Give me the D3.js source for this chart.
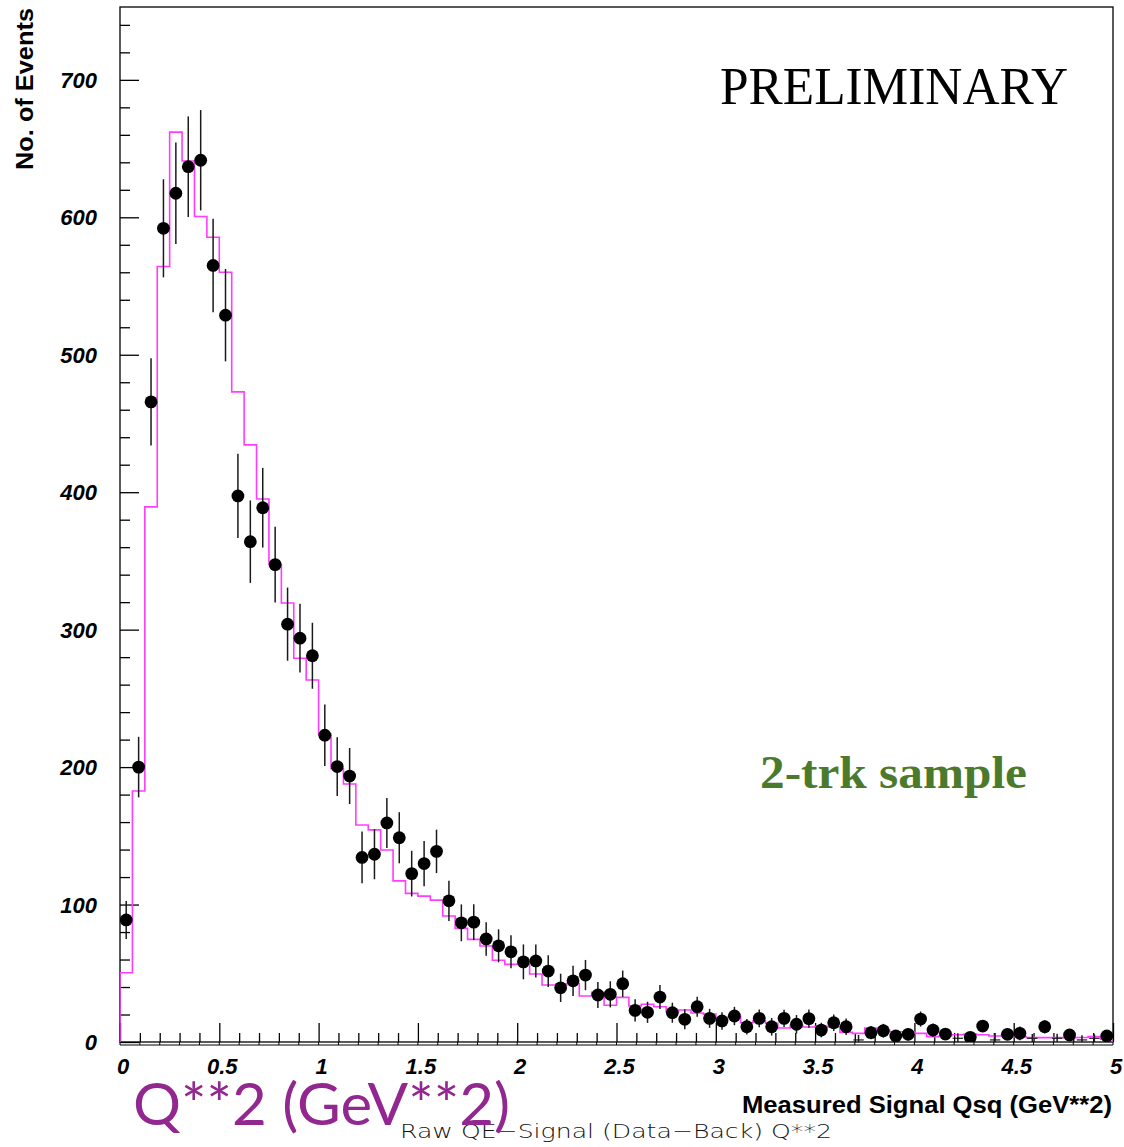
<!DOCTYPE html>
<html>
<head>
<meta charset="utf-8">
<script src="https://cdn.jsdelivr.net/npm/d3@7"></script>
<style>
  html, body { margin: 0; padding: 0; background: #fff; }
  svg { display: block; }
</style>
</head>
<body>
<svg id="chart" width="1124" height="1147"></svg>
<script>
// Binning of the Q^2 histogram: 80 bins over 0..5 GeV^2
const binLow = 0;
const binHigh = 5;
const nBins = 80;

// Measured signal (data - background), events per bin
const dataCounts = [
  88.8, 200, 465.7, 592, 617.5, 636.8, 641.5, 565, 528.8, 397.3,
  364, 388.7, 347.3, 304, 293.8, 281, 223.2, 200.4, 193.5, 134.3,
  136.6, 159.4, 148.6, 122.5, 129.8, 138.7, 102.7, 86.7, 87.2, 75,
  70, 65.6, 58.3, 59, 51.6, 39.4, 44.5, 48.7, 34.2, 34.7,
  42.4, 23, 21.6, 32.7, 21.3, 16.5, 25.7, 17.2, 15.3, 18.9,
  11.1, 17.2, 11.1, 17.2, 12.9, 17, 8.7, 14, 11.1, 1.5,
  6.8, 8.2, 4.4, 5.6, 16.7, 8.7, 5.8, 2.7, 3.4, 11.6,
  1.5, 5.6, 6.3, 2.7, 11.1, 2.7, 5.1, 1.5, 2.7, 4.4
];

// Statistical errors on the measured signal
const dataErrors = [
  13.8, 22, 31.7, 35.7, 37, 36.6, 36.5, 34, 33.6, 30.6,
  30, 29, 27.6, 26.6, 25, 24, 22.4, 21.4, 20.4, 18.8,
  18.2, 18.2, 18.6, 16.6, 16.4, 15.8, 14.6, 13.4, 13, 12.2,
  12, 12, 12.7, 12, 11.5, 10.3, 11, 11, 9.5, 9.5,
  9.6, 8.1, 7.7, 8.7, 7.3, 7.3, 7.3, 6.9, 6.3, 6.7,
  5.7, 6.5, 6.4, 6.3, 6.7, 6.6, 5.3, 6, 6, 3.6,
  4.8, 5, 4.2, 4.5, 5.5, 4.8, 4.2, 3.6, 4, 4.2,
  5, 4.2, 5, 3.1, 4.8, 3.3, 4.2, 3.5, 3, 4.4
];

// Monte Carlo expectation, events per bin
const mcCounts = [
  50.4, 182.6, 389.3, 564.2, 662, 641, 600.6, 585.5, 560, 473,
  434.4, 395, 347.6, 319.4, 279.2, 263.4, 224, 199, 187.7, 157.9,
  154.3, 139.7, 117.2, 108.1, 106.1, 103.2, 91.7, 82.7, 74.7, 69.8,
  59.5, 56.5, 56.5, 49.5, 41.5, 41.5, 42.5, 33.5, 36.2, 26.7,
  32.5, 26.2, 27.5, 25.7, 22, 23.3, 21.1, 20.3, 17.8, 18.6,
  14, 15.4, 13.6, 10.2, 12.1, 10.9, 11.5, 11, 7, 6.3,
  10.2, 8.7, 7.5, 7.5, 6.3, 3.9, 4.4, 5.3, 5.8, 5.3,
  4.4, 4.9, 3.9, 3.2, 3.2, 3.3, 2.9, 3.3, 3.9, 2
];

// Axis ranges and tick labels
const yMax = 753;
const yMajorTicks = [0, 100, 200, 300, 400, 500, 600, 700];
const xMajorTicks = [0, 0.5, 1, 1.5, 2, 2.5, 3, 3.5, 4, 4.5, 5];
const xTickLabels = ["0", "0.5", "1", "1.5", "2", "2.5", "3", "3.5", "4", "4.5", "5"];

// Texts
const yTitle = "No. of Events";
const xTitle = "Measured Signal Qsq (GeV**2)";
const statusLabel = "PRELIMINARY";
const sampleLabel = "2-trk sample";
const bigAxisLabel = "Q**2 (GeV**2)";
const histTitle = "Raw QE\u2212Signal (Data\u2212Back) Q**2";

// Frame geometry
const frame = { left: 120, right: 1113, top: 7, bottom: 1042 };

const svg = d3.select("#chart");
const x = d3.scaleLinear().domain([binLow, binHigh]).range([frame.left, frame.right]);
const y = d3.scaleLinear().domain([0, yMax]).range([frame.bottom, frame.top]);
const binWidth = (binHigh - binLow) / nBins;

const bins = d3.range(nBins).map(i => ({
  lo: binLow + i * binWidth,
  hi: binLow + (i + 1) * binWidth,
  mid: binLow + (i + 0.5) * binWidth,
  v: dataCounts[i],
  e: dataErrors[i],
  mc: mcCounts[i]
}));

svg.append("defs").append("clipPath").attr("id", "plotClip")
  .append("rect")
  .attr("x", frame.left).attr("y", frame.top)
  .attr("width", frame.right - frame.left)
  .attr("height", frame.bottom - frame.top);

// Ruler strip of the underlying histogram frame, just below the x axis
const rulerTicks = d3.range(0, 51).map(k => k * 0.1);
const ruler = svg.append("g").attr("class", "ruler");
ruler.append("line")
  .attr("x1", frame.left).attr("x2", frame.right)
  .attr("y1", frame.bottom + 3).attr("y2", frame.bottom + 3)
  .attr("stroke", "#000").attr("stroke-width", 1);
ruler.selectAll("line.rt").data(rulerTicks).join("line")
  .attr("class", "rt")
  .attr("x1", d => x(d)).attr("x2", d => x(d))
  .attr("y1", frame.bottom).attr("y2", frame.bottom + 3)
  .attr("stroke", "#000").attr("stroke-width", 1);

// Frame box
svg.append("rect")
  .attr("x", frame.left).attr("y", frame.top)
  .attr("width", frame.right - frame.left)
  .attr("height", frame.bottom - frame.top)
  .attr("fill", "none").attr("stroke", "#000").attr("stroke-width", 1.3);

// Y axis: inward ticks, major every 100, minor every 20
const yAxis = d3.axisRight(y)
  .tickValues(d3.range(0, yMax, 20))
  .tickSize(0)
  .tickFormat("");
const gy = svg.append("g").attr("transform", `translate(${frame.left},0)`).call(yAxis);
gy.select(".domain").remove();
gy.selectAll(".tick line")
  .attr("x2", d => (d % 100 === 0 ? 19 : 10))
  .attr("stroke", "#000").attr("stroke-width", 1.3);

svg.append("g").selectAll("text").data(yMajorTicks).join("text")
  .attr("x", frame.left - 23)
  .attr("y", d => y(d) + 8)
  .attr("text-anchor", "end")
  .attr("font-family", "'Liberation Sans', Arial, sans-serif")
  .attr("font-weight", "bold").attr("font-style", "italic")
  .attr("font-size", 22)
  .text(d => d);

// X axis: inward ticks, major every 0.5, minor every 0.1
const xAxis = d3.axisTop(x)
  .tickValues(d3.range(0, 51).map(k => k * 0.1))
  .tickSize(0)
  .tickFormat("");
const gx = svg.append("g").attr("transform", `translate(0,${frame.bottom})`).call(xAxis);
gx.select(".domain").remove();
gx.selectAll(".tick line")
  .attr("y2", (d, i) => (i % 5 === 0 ? -19 : -9))
  .attr("stroke", "#000").attr("stroke-width", 1.3);

svg.append("g").selectAll("text").data(xMajorTicks).join("text")
  .attr("x", d => x(d) + 3)
  .attr("y", frame.bottom + 32)
  .attr("text-anchor", "middle")
  .attr("font-family", "'Liberation Sans', Arial, sans-serif")
  .attr("font-weight", "bold").attr("font-style", "italic")
  .attr("font-size", 22)
  .text((d, i) => xTickLabels[i]);

// Monte Carlo step histogram
const stepPoints = [[x(binLow), y(0)]];
bins.forEach(b => {
  stepPoints.push([x(b.lo), y(b.mc)]);
  stepPoints.push([x(b.hi), y(b.mc)]);
});
stepPoints.push([x(binHigh), y(0)]);
svg.append("path")
  .attr("clip-path", "url(#plotClip)")
  .attr("d", d3.line()(stepPoints))
  .attr("fill", "none")
  .attr("stroke", "#ff3cff")
  .attr("stroke-width", 1.6)
  .attr("stroke-linejoin", "miter");

// Data points with error bars
const markerMin = 3;   // bins below this count show only their error cross
const pts = svg.append("g").attr("clip-path", "url(#plotClip)");
pts.selectAll("line.ey").data(bins).join("line")
  .attr("class", "ey")
  .attr("x1", d => x(d.mid)).attr("x2", d => x(d.mid))
  .attr("y1", d => y(Math.max(d.v - d.e, 0)))
  .attr("y2", d => y(d.v + d.e))
  .attr("stroke", "#1a1a1a").attr("stroke-width", 1.5);
pts.selectAll("line.ex").data(bins).join("line")
  .attr("class", "ex")
  .attr("x1", d => x(d.lo) + 1).attr("x2", d => x(d.hi) - 1)
  .attr("y1", d => y(d.v)).attr("y2", d => y(d.v))
  .attr("stroke", "#1a1a1a").attr("stroke-width", 1.2);
pts.selectAll("circle").data(bins.filter(d => d.v >= markerMin)).join("circle")
  .attr("cx", d => x(d.mid))
  .attr("cy", d => y(d.v))
  .attr("r", 6.4)
  .attr("fill", "#000");

// Axis titles
svg.append("text")
  .attr("transform", `translate(33,8) rotate(-90)`)
  .attr("text-anchor", "end")
  .attr("font-family", "'Liberation Sans', Arial, sans-serif")
  .attr("font-weight", "bold")
  .attr("font-size", 24)
  .attr("textLength", 162).attr("lengthAdjust", "spacingAndGlyphs")
  .text(yTitle);

svg.append("text")
  .attr("x", frame.right - 1)
  .attr("y", 1113)
  .attr("text-anchor", "end")
  .attr("font-family", "'Liberation Sans', Arial, sans-serif")
  .attr("font-weight", "bold")
  .attr("font-size", 23)
  .attr("textLength", 370).attr("lengthAdjust", "spacingAndGlyphs")
  .text(xTitle);

// Annotations
svg.append("text")
  .attr("x", 720).attr("y", 104)
  .attr("font-family", "'Liberation Serif', 'Times New Roman', serif")
  .attr("font-size", 52)
  .attr("textLength", 348).attr("lengthAdjust", "spacingAndGlyphs")
  .attr("fill", "#000")
  .text(statusLabel);

svg.append("text")
  .attr("x", 760).attr("y", 788)
  .attr("font-family", "'Liberation Serif', 'Times New Roman', serif")
  .attr("font-weight", "bold")
  .attr("font-size", 46)
  .attr("textLength", 267).attr("lengthAdjust", "spacingAndGlyphs")
  .attr("fill", "#4c7a2c")
  .text(sampleLabel);

svg.append("text")
  .attr("x", 400).attr("y", 1138)
  .attr("font-family", "'DejaVu Sans', sans-serif")
  .attr("font-weight", 200)
  .attr("font-size", 20)
  .attr("textLength", 432).attr("lengthAdjust", "spacingAndGlyphs")
  .attr("fill", "#111")
  .text(histTitle);

svg.append("text")
  .attr("x", 133).attr("y", 1125)
  .attr("font-family", "Lato, 'Open Sans', sans-serif")
  .attr("font-size", 58)
  .attr("textLength", 377).attr("lengthAdjust", "spacingAndGlyphs")
  .attr("fill", "#92278f")
  .text(bigAxisLabel);
</script>
</body>
</html>
